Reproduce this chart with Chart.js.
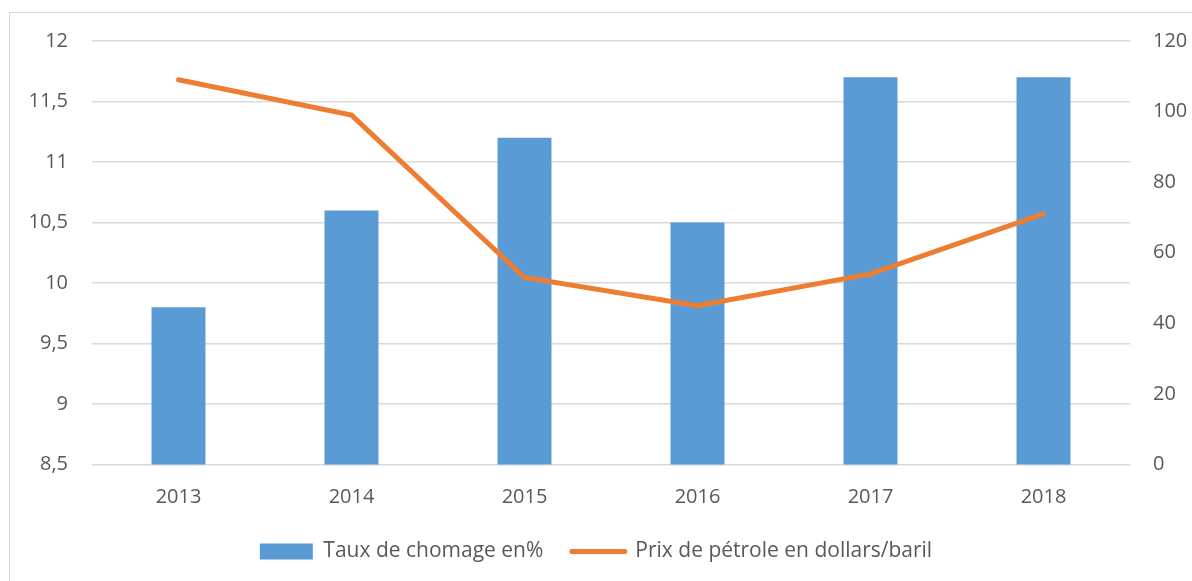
<!DOCTYPE html>
<html>
<head>
<meta charset="utf-8">
<script src="https://cdn.jsdelivr.net/npm/chart.js@4/dist/chart.umd.min.js"></script>
<style>
  html, body { margin: 0; padding: 0; background: #fff; overflow: hidden; }
  #wrap { position: relative; width: 1192px; height: 581px; overflow: hidden; }
  #frame { position: absolute; left: 9px; top: 12px; width: 1200px; height: 600px; border: 1px solid #d9d9d9; }
  canvas { position: absolute; left: 0; top: 0; }
</style>
</head>
<body>
<div id="wrap">
  <div id="frame"></div>
  <canvas id="chart" width="1192" height="581"></canvas>
</div>
<script>
const years = ['2013', '2014', '2015', '2016', '2017', '2018'];
const chomage = [9.8, 10.6, 11.2, 10.5, 11.7, 11.7];
const petrole = [109, 99, 53, 45, 54, 71];
const leftTicks = ['8,5', '9', '9,5', '10', '10,5', '11', '11,5', '12'];
const rightTicks = ['0', '20', '40', '60', '80', '100', '120'];

const textColor = '#595959';
const gridColor = '#d9d9d9';
const font = { family: 'Open Sans', size: 20 };

new Chart(document.getElementById('chart').getContext('2d'), {
  data: {
    labels: years,
    datasets: [
      {
        type: 'bar',
        label: 'Taux de chomage en%',
        data: chomage,
        backgroundColor: '#5b9bd5',
        borderWidth: 0,
        yAxisID: 'left',
        barPercentage: 0.312,
        categoryPercentage: 1,
        order: 2,
      },
      {
        type: 'line',
        label: 'Prix de pétrole en dollars/baril',
        data: petrole,
        borderColor: '#ed7d31',
        backgroundColor: '#ed7d31',
        borderWidth: 5,
        borderCapStyle: 'round',
        pointRadius: 0,
        tension: 0,
        yAxisID: 'right',
        order: 1,
      },
    ],
  },
  options: {
    responsive: false,
    animation: false,
    layout: { padding: { top: 41, left: 0, right: 0, bottom: 9 } },
    scales: {
      x: {
        grid: { display: false },
        border: { display: false },
        ticks: { color: textColor, font, padding: 13 },
        afterFit: (scale) => { scale.height = 48; },
      },
      left: {
        type: 'linear',
        position: 'left',
        min: 8.5,
        max: 12,
        ticks: {
          stepSize: 0.5,
          color: textColor,
          font,
          padding: 3,
          callback: (value) => leftTicks[Math.round((value - 8.5) / 0.5)],
        },
        // invisible tick marks push the labels away from the plot
        grid: { color: gridColor, lineWidth: 1.5, tickLength: 21, tickColor: 'rgba(0,0,0,0)' },
        border: { display: false },
        afterFit: (scale) => { scale.width = 92; },
      },
      right: {
        type: 'linear',
        position: 'right',
        min: 0,
        max: 120,
        ticks: {
          stepSize: 20,
          color: textColor,
          font,
          padding: 3,
          callback: (value) => rightTicks[Math.round(value / 20)],
        },
        grid: { drawOnChartArea: false, tickLength: 20, tickColor: 'rgba(0,0,0,0)' },
        border: { display: false },
        afterFit: (scale) => { scale.width = 62; },
      },
    },
    plugins: {
      tooltip: { enabled: false },
      legend: {
        position: 'bottom',
        labels: {
          color: textColor,
          font: { family: 'Open Sans', size: 21 },
          usePointStyle: true,
          pointStyleWidth: 53,
          boxHeight: 16,
          padding: 28.5,
          sort: (a, b) => a.datasetIndex - b.datasetIndex,
          generateLabels: (chart) => chart.data.datasets.map((ds, i) => ({
            text: ds.label,
            datasetIndex: i,
            fillStyle: ds.backgroundColor,
            strokeStyle: ds.type === 'line' ? ds.borderColor : ds.backgroundColor,
            lineWidth: ds.type === 'line' ? 5 : 0,
            lineCap: 'round',
            pointStyle: ds.type === 'line' ? 'line' : 'rect',
            fontColor: textColor,
            hidden: false,
          })),
        },
      },
    },
  },
});
</script>
</body>
</html>
